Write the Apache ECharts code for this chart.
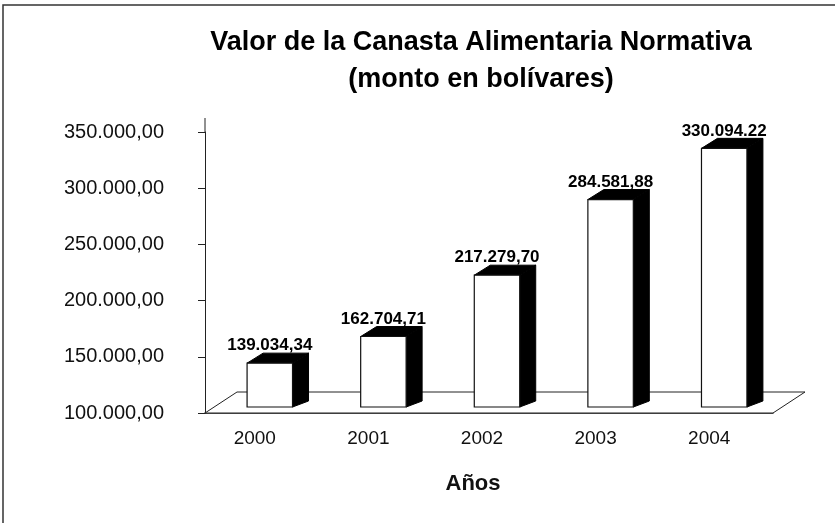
<!DOCTYPE html>
<html>
<head>
<meta charset="utf-8">
<script src="https://cdn.jsdelivr.net/npm/echarts@6/dist/echarts.min.js"></script>
<style>
  html, body { margin: 0; padding: 0; background: #fff; }
  #chart { width: 835px; height: 523px; }
</style>
</head>
<body>
<div id="chart"></div>
<script>
// data
const years = ['2000', '2001', '2002', '2003', '2004']
const values = [139034.34, 162704.71, 217279.70, 284581.88, 330094.22]
const valueLabels = ['139.034,34', '162.704,71', '217.279,70', '284.581,88', '330.094.22']
const yMin = 100000
const yMax = 350000
const yStep = 50000

const FONT = "'Liberation Sans', Arial, sans-serif"

// 350000 -> "350.000,00"
function fmtMoney(v) {
    let s = Math.round(v).toString()
    s = s.replace(/\B(?=(\d{3})+(?!\d))/g, '.')
    return s + ',00'
}

const chart = echarts.init(document.getElementById('chart'))

// oblique 3D offsets
const floorDx = 32, floorDy = -21
const barDx = 16, barDy = -10
const barShiftX = 8, barShiftY = -6

function renderFloor(params, api) {
    const cs = params.coordSys
    const x0 = cs.x, x1 = cs.x + cs.width, yb = cs.y + cs.height
    return {
        type: 'group',
        children: [
            {
                type: 'polygon',
                shape: { points: [[x0, yb], [x1, yb], [x1 + floorDx, yb + floorDy], [x0 + floorDx, yb + floorDy]] },
                style: { fill: '#fff', stroke: '#222', lineWidth: 1 }
            },
            {
                // axis line runs a bit above the top tick
                type: 'line',
                shape: { x1: x0, y1: cs.y, x2: x0, y2: cs.y - 14 },
                style: { stroke: '#222', lineWidth: 1 }
            }
        ]
    }
}

function renderBar(params, api) {
    const idx = api.value(0)
    const pt = api.coord([idx, api.value(1)])
    const base = api.coord([idx, yMin])
    const band = api.size([1, 0])[0]
    const w = band * 0.4
    const cx = pt[0] + barShiftX
    const top = pt[1] + barShiftY
    const bottom = base[1] + barShiftY
    const l = cx - w / 2, r = cx + w / 2
    return {
        type: 'group',
        children: [
            {
                type: 'polygon',
                shape: { points: [[r, top], [r + barDx, top + barDy], [r + barDx, bottom + barDy + 4], [r, bottom]] },
                style: { fill: '#000', stroke: '#000', lineWidth: 1 }
            },
            {
                type: 'polygon',
                shape: { points: [[l, top], [l + barDx, top + barDy], [r + barDx, top + barDy], [r, top]] },
                style: { fill: '#000', stroke: '#000', lineWidth: 1 }
            },
            {
                type: 'rect',
                shape: { x: l, y: top, width: w, height: bottom - top },
                style: { fill: '#fff', stroke: '#111', lineWidth: 1.2 }
            },
            {
                type: 'text',
                style: {
                    x: cx, y: top - 9,
                    text: valueLabels[params.dataIndex],
                    align: 'center', verticalAlign: 'bottom',
                    font: 'bold 17px ' + FONT,
                    fill: '#000'
                }
            }
        ]
    }
}

const option = {
    backgroundColor: '#fff',
    animation: false,
    title: [
        {
            text: 'Valor de la Canasta Alimentaria Normativa',
            left: 476, top: 24, textAlign: 'center',
            textStyle: { fontFamily: FONT, fontSize: 27, fontWeight: 'bold', color: '#000' }
        },
        {
            text: '(monto en bolívares)',
            left: 476, top: 61, textAlign: 'center',
            textStyle: { fontFamily: FONT, fontSize: 27, fontWeight: 'bold', color: '#000' }
        }
    ],
    grid: { left: 205, right: 62, top: 132, bottom: 110 },
    xAxis: {
        type: 'category',
        data: years,
        boundaryGap: true,
        axisLine: { show: true, lineStyle: { color: '#222', width: 1.5 } },
        axisTick: { show: false },
        axisLabel: {
            margin: 16, color: '#111', fontFamily: FONT, fontSize: 19,
            padding: [0, 14, 0, 0]
        },
        name: 'Años',
        nameLocation: 'middle',
        nameGap: 60,
        nameTextStyle: {
            fontFamily: FONT, fontSize: 22, fontWeight: 'bold', color: '#111',
            padding: [0, 32, 0, 0]
        }
    },
    yAxis: {
        type: 'value',
        min: yMin, max: yMax, interval: yStep,
        axisLine: { show: true, lineStyle: { color: '#222', width: 1 } },
        axisTick: { show: true, inside: false, length: 7, lineStyle: { color: '#222' } },
        splitLine: { show: false },
        axisLabel: {
            margin: 41, color: '#111', fontFamily: FONT, fontSize: 20,
            formatter: fmtMoney
        }
    },
    graphic: [
        {
            type: 'rect',
            shape: { x: 3, y: 5, width: 900, height: 600 },
            style: { fill: 'none', stroke: '#333', lineWidth: 1.5 },
            silent: true, z: -10
        }
    ],
    series: [
        {
            type: 'custom',
            name: 'piso',
            renderItem: renderFloor,
            data: [[0, yMin]],
            z: 1,
            silent: true
        },
        {
            type: 'custom',
            name: 'Valor',
            renderItem: renderBar,
            data: values.map((v, i) => [i, v]),
            encode: { x: 0, y: 1 },
            z: 3
        }
    ]
}

chart.setOption(option)
window.addEventListener('resize', function () {
    chart.resize()
})
</script>
</body>
</html>
